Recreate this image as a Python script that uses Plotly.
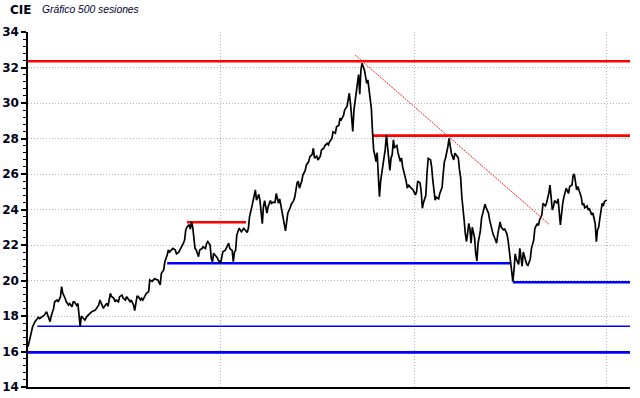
import plotly.graph_objects as go

# ---- data ----
sessions = [0,1,3,4,6,9,10,12,14,16,18,19,20,22,23,25,26,28,29,30,32,33,35,36,38,39,40,42,43,44,45,46,48,49,51,52,53,55,58,61,62,64,65,66,68,69,71,72,74,75,76,78,79,81,82,84,85,86,88,89,91,92,94,95,97,98,99,101,102,104,105,107,108,109,111,112,114,115,117,118,120,121,122,124,125,127,128,130,131,133,134,135,136,137,139,140,141,142,143,144,145,147,148,150,151,153,154,155,157,158,159,160,161,163,164,166,167,168,170,171,173,174,176,177,178,179,180,182,184,186,187,189,190,191,193,194,196,197,199,200,201,202,203,204,206,207,209,210,211,213,214,216,217,220,222,223,224,226,227,229,230,232,233,234,236,237,239,240,242,243,245,246,247,249,250,252,253,255,256,258,259,260,262,263,265,266,268,269,270,272,273,275,276,277,278,279,280,281,282,283,284,285,286,287,288,289,290,291,292,293,294,295,296,297,298,299,300,301,302,303,304,305,306,307,308,309,310,311,312,313,314,315,316,318,319,321,322,323,325,326,327,328,329,331,332,334,335,336,338,339,340,341,342,343,344,345,347,348,349,350,351,352,354,355,357,358,359,360,361,362,363,364,365,367,368,370,371,372,373,374,375,376,377,378,379,380,381,382,383,384,385,386,387,388,390,391,392,393,394,395,397,398,400,401,403,404,405,407,408,410,411,413,414,415,416,417,418,419,420,421,423,424,425,426,427,428,430,431,433,434,436,437,439,440,441,443,444,446,447,449,450,451,452,453,454,456,457,459,460,461,462,463,464,466,467,469,470,471,472,473,474,476,477,478,479,480,482,483,484,486,487,489,490,491,492,493,494,495,496,497,499]
prices = [16.27,16.6,17.2,17.4,17.68,17.93,17.85,17.95,18.05,18.24,17.77,17.68,18.0,18.4,18.8,18.9,18.8,19.09,19.65,19.28,19.0,18.8,18.62,18.7,18.52,18.8,18.8,18.6,18.7,18.2,17.4,18.0,17.87,17.77,18.0,18.05,18.15,18.24,18.33,18.62,18.9,18.62,18.43,18.55,18.72,18.55,19.28,19.1,19.0,18.8,18.9,18.8,19.09,19.18,19.0,18.9,19.09,19.0,18.8,18.9,18.62,18.3,19.1,19.1,18.9,19.0,18.9,19.15,19.28,19.37,20.03,19.95,20.03,20.1,20.05,20.03,19.75,20.4,20.6,21.06,21.44,21.72,21.6,21.72,21.81,21.72,21.5,21.6,21.72,21.9,22.1,22.28,22.85,23.0,23.15,22.9,23.32,23.0,22.47,21.81,21.72,21.34,21.72,21.8,21.9,21.8,22.1,22.2,22.0,21.25,21.05,21.53,21.45,21.3,21.15,20.97,21.3,21.62,21.7,21.81,22.1,21.8,21.7,21.06,21.6,21.7,22.56,22.94,22.75,22.94,22.85,22.7,22.94,23.6,24.16,24.5,25.1,24.53,24.85,24.5,23.79,23.2,24.16,24.5,23.8,24.16,24.5,24.35,24.4,24.4,24.9,24.35,24.6,23.5,22.8,23.3,23.79,24.1,24.3,24.5,24.7,25.5,25.6,25.2,25.6,25.94,26.2,26.51,26.7,26.98,27.1,27.45,26.9,27.0,26.79,27.0,27.35,27.45,27.6,27.73,27.65,27.82,28.0,28.38,28.3,28.66,28.75,29.14,29.05,29.3,29.6,29.8,30.26,30.55,30.0,28.95,28.4,29.6,30.17,30.73,31.39,31.6,30.5,31.86,32.24,32.1,31.86,31.5,31.11,31.3,30.82,30.36,29.7,28.38,27.35,27.07,26.7,27.2,25.85,24.72,25.6,26.04,26.5,26.7,27.4,28.2,27.4,26.8,26.2,26.9,27.1,27.92,27.5,27.6,27.2,26.7,26.9,26.4,25.9,25.6,25.2,25.4,25.3,25.2,25.1,24.82,25.0,25.6,25.5,25.0,24.07,24.4,24.6,24.8,26.04,26.88,26.8,26.4,25.65,25.1,24.53,24.7,24.6,24.9,25.25,26.04,26.7,26.9,27.17,27.55,28.0,27.55,27.17,26.79,27.17,27.0,26.9,26.23,25.8,24.72,24.16,23.41,22.66,22.19,22.66,23.22,22.9,22.1,23.0,22.7,22.4,21.53,21.1,22.1,22.8,23.5,23.8,23.97,24.3,24.1,23.8,23.4,22.85,22.6,22.3,22.1,22.6,23.3,23.0,22.85,22.9,22.6,22.2,21.7,21.15,20.6,19.95,20.6,21.5,21.2,20.9,21.81,21.3,20.8,21.6,21.4,20.9,20.85,21.2,21.8,22.28,22.94,23.2,23.1,23.41,23.69,24.35,24.2,24.35,24.91,25.38,24.7,23.97,24.15,24.5,24.35,24.6,23.13,23.8,24.35,24.7,24.96,25.2,24.9,25.3,25.38,25.94,26.0,25.38,25.1,25.3,24.96,24.7,24.25,24.35,24.1,24.2,23.97,24.05,23.7,23.8,23.2,22.19,22.85,23.0,23.5,23.9,24.35,24.2,24.45,24.53]

# resistance (red) and support (blue) levels: level, start session, end session
red_levels = [32.35, 28.16, 23.28]
red_starts = [0, 297, 137]
red_ends = [519, 519, 188]
blue_levels = [20.97, 19.9, 17.42, 15.95]
blue_starts = [120, 418, 8, 0]
blue_ends = [416, 519, 519, 519]
blue_widths = [2.6, 2.6, 1.4, 2.6]

# downward trend line (session, price)
trend_sessions = [282, 449]
trend_prices = [32.7, 23.18]

y_ticks = [14, 16, 18, 20, 22, 24, 26, 28, 30, 32, 34]
x_grid = [166, 333, 499]

GRID = "#b4b4b4"

fig = go.Figure()

for lvl, s0, s1 in zip(red_levels, red_starts, red_ends):
    fig.add_trace(go.Scatter(x=[s0, s1], y=[lvl, lvl], mode="lines",
                             line=dict(color="#ff0000", width=2.6),
                             hoverinfo="skip", showlegend=False))
for lvl, s0, s1, w in zip(blue_levels, blue_starts, blue_ends, blue_widths):
    fig.add_trace(go.Scatter(x=[s0, s1], y=[lvl, lvl], mode="lines",
                             line=dict(color="#0000ff", width=w),
                             hoverinfo="skip", showlegend=False))

fig.add_trace(go.Scatter(x=sessions, y=prices, mode="lines",
                         line=dict(color="black", width=1.7),
                         showlegend=False))

fig.add_trace(go.Scatter(x=trend_sessions, y=trend_prices, mode="lines",
                         line=dict(color="#ff2020", width=1, dash="2px,1px"),
                         hoverinfo="skip", showlegend=False))

fig.update_layout(
    width=640, height=398,
    margin=dict(l=28, r=10, t=32, b=11, autoexpand=False),
    paper_bgcolor="white", plot_bgcolor="white",
    showlegend=False,
    xaxis=dict(range=[0, 519], showline=True, linecolor="black", linewidth=1.5,
               tickvals=x_grid, showticklabels=False, ticks="",
               showgrid=True, gridcolor=GRID, griddash="1px,2px", gridwidth=1,
               zeroline=False, fixedrange=True, automargin=False),
    yaxis=dict(range=[14, 34], showline=True, linecolor="black", linewidth=1.5,
               tickvals=y_ticks, ticktext=[str(v) for v in y_ticks],
               ticks="outside", ticklen=5, tickwidth=1.5, tickcolor="black",
               tickfont=dict(family="DejaVu Sans", size=12, color="#000018", weight="bold"),
               showgrid=True, gridcolor=GRID, griddash="1px,2px", gridwidth=1,
               minor=dict(tick0=14, dtick=0.4, ticks="outside", ticklen=3,
                          tickcolor="black", tickwidth=1, showgrid=False),
               zeroline=False, fixedrange=True, automargin=False),
    annotations=[
        dict(text="<b>CIE</b>", xref="paper", yref="paper", x=-0.033, y=1.062,
             xanchor="left", yanchor="middle", showarrow=False,
             font=dict(family="DejaVu Sans", size=12, color="#000018")),
        dict(text="<i>Gráfico 500 sesiones</i>", xref="paper", yref="paper",
             x=0.0199, y=1.062, xanchor="left", yanchor="middle", showarrow=False,
             font=dict(family="Liberation Sans", size=10.3, color="#000030")),
    ],
)

fig.write_html("out.html", config={"displayModeBar": False},
               post_script="document.body.style.margin='0';")
